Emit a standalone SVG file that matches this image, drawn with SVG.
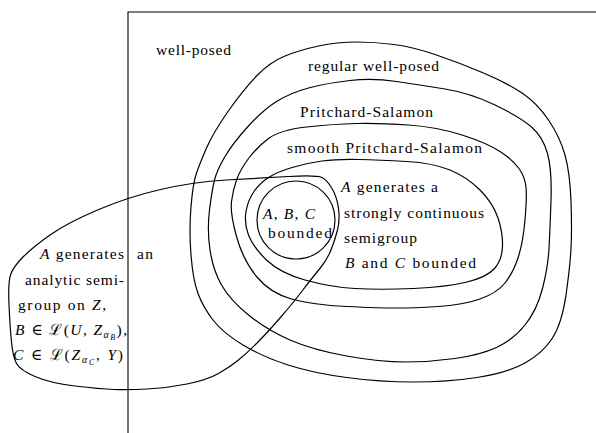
<svg xmlns="http://www.w3.org/2000/svg" width="596" height="433" viewBox="0 0 596 433">
<style>
.c{fill:none;stroke:#000;stroke-width:1.2}
.f{fill:none;stroke:#000;stroke-width:1.1}
.t{font-family:"Liberation Serif","DejaVu Serif",serif;font-size:15.5px;fill:#000}
.i{font-style:italic}
</style>
<rect width="596" height="433" fill="#fff"/>
<g id="well-posed">
<path class="f" d="M128,433 V12 H596"/>
<text class="t" x="156" y="55" textLength="75">well-posed</text>
</g>
<g id="regular-well-posed">
<path class="c" d="M318.5,46 Q337,42 356,42 Q375,42 394,44.5 Q413,47 436.5,55 Q460,63 483.5,73 Q507,83 522,93 Q537,103 548.5,120 Q560,137 565,155 Q570,173 571,201.5 Q572,230 571,248.5 Q570,267 566,295 Q562,323 552.5,338 Q543,353 525,363 Q507,373 477,377.5 Q447,382 413.5,382 Q380,382 346.5,377.5 Q313,373 288,365 Q263,357 243,345 Q223,333 213,320 Q203,307 198,293.5 Q193,280 191,255 Q189,230 191,206.5 Q193,183 196.5,173 Q200,163 206.5,148 Q213,133 228,111.5 Q243,90 256.5,76 Q270,62 285,56 Q300,50 318.5,46 Z"/>
<text class="t" x="308" y="71" textLength="131">regular well-posed</text>
</g>
<g id="pritchard-salamon">
<path class="c" d="M350,80.5 Q373,78 396.5,81.5 Q420,85 445,89 Q470,93 495,105 Q520,117 531.5,127 Q543,137 547.5,153.5 Q552,170 551,200 Q550,230 549,248.5 Q548,267 542.5,288.5 Q537,310 525,325 Q513,340 496.5,347.5 Q480,355 455,358.5 Q430,362 405,362 Q380,362 346.5,356 Q313,350 290,340 Q267,330 248.5,315 Q230,300 221.5,285 Q213,270 210,250 Q207,230 209.5,210 Q212,190 214.5,180 Q217,170 225,156.5 Q233,143 248,126.5 Q263,110 276.5,101.5 Q290,93 308.5,88 Q327,83 350,80.5 Z"/>
<text class="t" x="300" y="117" textLength="133">Pritchard-Salamon</text>
</g>
<g id="smooth-pritchard-salamon">
<path class="c" d="M356.5,123.5 Q380,123 408.5,125 Q437,127 462,135 Q487,143 500,151.5 Q513,160 519,168.5 Q525,177 526,187 Q527,197 525,220 Q523,243 518,258 Q513,273 505,283 Q497,293 480,299 Q463,305 438,306.5 Q413,308 396.5,308 Q380,308 346.5,306.5 Q313,305 291.5,299 Q270,293 256.5,276.5 Q243,260 236.5,236.5 Q230,213 231.5,201.5 Q233,190 236.5,180 Q240,170 248.5,158.5 Q257,147 268.5,138.5 Q280,130 306.5,127 Q333,124 356.5,123.5 Z"/>
<text class="t" x="287" y="153" textLength="195">smooth Pritchard-Salamon</text>
</g>
<g id="strongly-continuous">
<path class="c" d="M322,161 Q337,159 358.5,159.5 Q380,160 406.5,161.5 Q433,163 450,170 Q467,177 480,190 Q493,203 498,218 Q503,233 502.5,246.5 Q502,260 494.5,268.5 Q487,277 467,282 Q447,287 413.5,288.5 Q380,290 355,288.5 Q330,287 305,280 Q280,273 266.5,260 Q253,247 248.5,235 Q244,223 246,211.5 Q248,200 254,191.5 Q260,183 268.5,177.5 Q277,172 292,167.5 Q307,163 322,161 Z"/>
<text class="t" x="341" y="192" textLength="97"><tspan class="i">A</tspan> generates a</text>
<text class="t" x="344" y="218" textLength="140">strongly continuous</text>
<text class="t" x="344" y="243" textLength="73">semigroup</text>
<text class="t" x="345" y="268" textLength="131"><tspan class="i">B</tspan> and <tspan class="i">C</tspan> bounded</text>
</g>
<g id="analytic">
<path class="c" d="M97.5,210 Q128,197 160.5,189.5 Q193,182 226.5,180 Q260,178 288.5,176.5 Q317,175 322,177.5 Q327,180 332,188.5 Q337,197 338.5,208.5 Q340,220 337.5,230 Q335,240 331,250 Q327,260 319.5,269 Q312,278 302.5,290.5 Q293,303 280,318 Q267,333 257,343 Q247,353 238.5,360 Q230,367 218.5,373.5 Q207,380 187,384 Q167,388 147.5,389 Q128,390 114,389.5 Q100,389 75,386 Q50,383 35,376.5 Q20,370 16.5,363.5 Q13,357 11.5,342 Q10,327 9,305 Q8,283 10.5,275 Q13,267 23,257 Q33,247 50,235 Q67,223 97.5,210 Z"/>
<text class="t" x="40" y="259" textLength="84"><tspan class="i">A</tspan> generates</text>
<text class="t" x="137" y="259" textLength="16">an</text>
<text class="t" x="25" y="285" textLength="99">analytic semi-</text>
<text class="t" x="18" y="310" textLength="88">group on <tspan class="i">Z</tspan>,</text>
<text class="t" x="15" y="335" textLength="112"><tspan class="i">B</tspan> ∈ ℒ(<tspan class="i">U</tspan>, <tspan class="i">Z</tspan><tspan class="i" font-size="10" dy="3">α</tspan><tspan class="i" font-size="8" dy="2">B</tspan><tspan dy="-5">),</tspan></text>
<text class="t" x="13" y="360" textLength="110"><tspan class="i">C</tspan> ∈ ℒ(<tspan class="i">Z</tspan><tspan class="i" font-size="10" dy="3">α</tspan><tspan class="i" font-size="8" dy="2">C</tspan><tspan dy="-5">, </tspan><tspan class="i">Y</tspan>)</text>
</g>
<g id="bounded">
<circle class="c" cx="296" cy="220" r="39"/>
<text class="t" x="263" y="219" textLength="52"><tspan class="i">A</tspan>, <tspan class="i">B</tspan>, <tspan class="i">C</tspan></text>
<text class="t" x="268" y="238" textLength="64">bounded</text>
</g>
</svg>
